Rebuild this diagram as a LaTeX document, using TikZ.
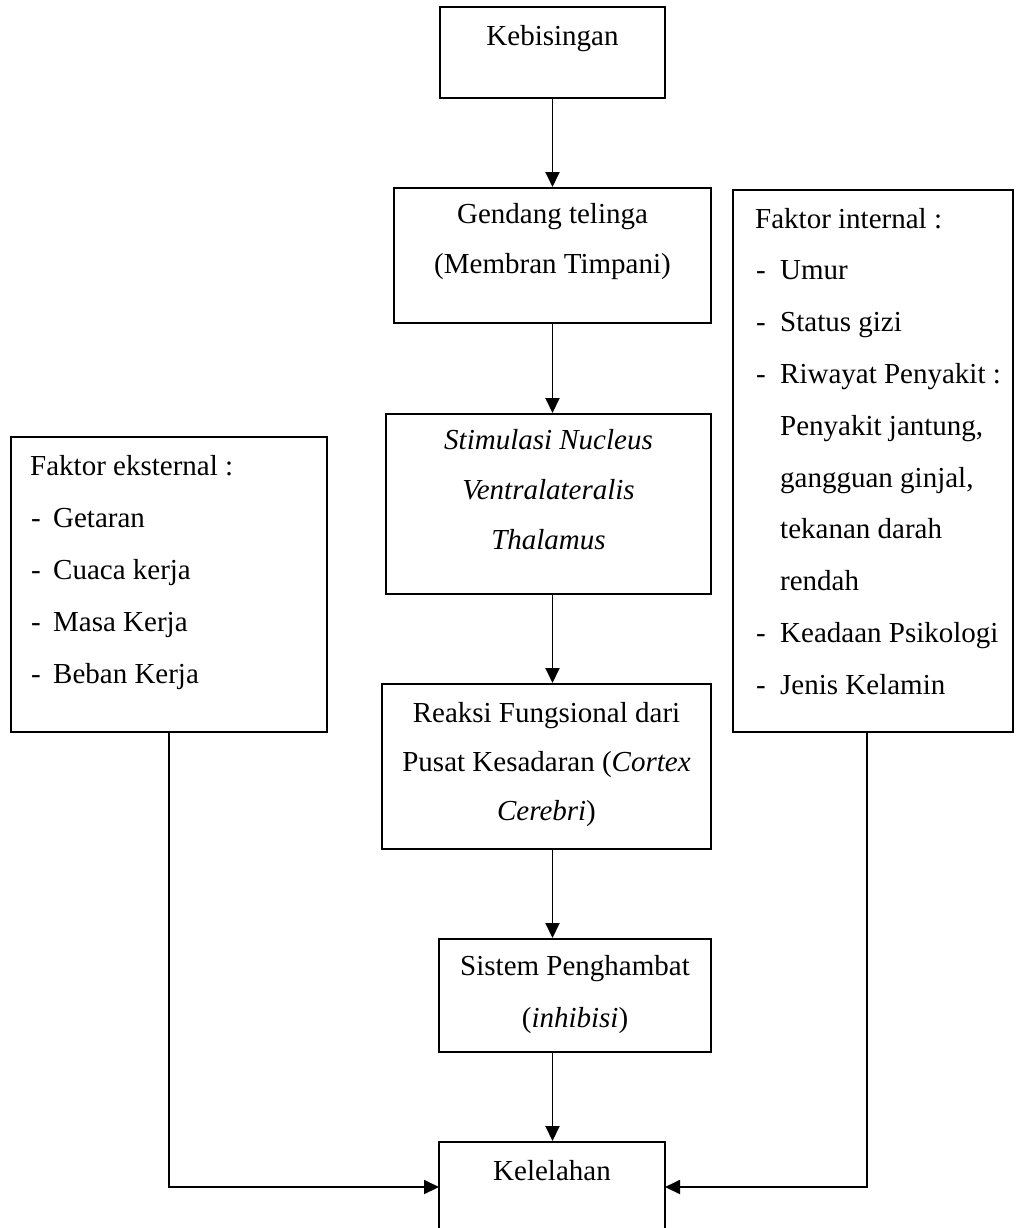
\documentclass[tikz,border=0pt]{standalone}
\usepackage{fontspec}
\setmainfont{Liberation Serif}
\usetikzlibrary{arrows.meta}
\tikzset{
  box/.style={draw, line width=2pt, inner sep=0pt},
  arr/.style={line width=1.9pt, -{Triangle[length=15pt,width=14pt]}},
  ctxt/.style={anchor=base, inner sep=0pt, font=\fontsize{29}{35}\selectfont},
  ltxt/.style={anchor=base west, inner sep=0pt, font=\fontsize{29}{35}\selectfont}
}
\begin{document}
\begin{tikzpicture}[x=1pt,y=-1pt]
\useasboundingbox (0,0) rectangle (1015,1228);
\clip (0,0) rectangle (1015,1228);
% boxes
\node[box, minimum width=225pt, minimum height=91pt] (keb) at (552.5,52.5) {};
\node[box, minimum width=317pt, minimum height=135pt] (gen) at (552.5,255.5) {};
\node[box, minimum width=325pt, minimum height=180pt] (sti) at (548.5,504) {};
\node[box, minimum width=329pt, minimum height=165pt] (rea) at (546.5,766.5) {};
\node[box, minimum width=272pt, minimum height=113pt] (sis) at (575,995.5) {};
\node[box, minimum width=226pt, minimum height=118pt] (kel) at (552,1201) {};
\node[box, minimum width=316pt, minimum height=295pt] (ext) at (169,584.5) {};
\node[box, minimum width=280pt, minimum height=542pt] (int) at (873,461) {};
% central texts
\node[ctxt] (t1) at (552.5,46) {Kebisingan};
\node[ctxt] (t2a) at (552.5,223) {Gendang telinga};
\node[ctxt] (t2b) at (552.5,273) {(Membran Timpani)};
\node[ctxt] (t3a) at (548.5,449) {\itshape Stimulasi Nucleus};
\node[ctxt] (t3b) at (548.5,499) {\itshape Ventralateralis};
\node[ctxt] (t3c) at (548.5,549) {\itshape Thalamus};
\node[ctxt] (t4a) at (546.5,722) {Reaksi Fungsional dari};
\node[ctxt] (t4b) at (546.5,771) {Pusat Kesadaran (\textit{Cortex}};
\node[ctxt] (t4c) at (546.5,820) {\textit{Cerebri})};
\node[ctxt] (t5a) at (575,975) {Sistem Penghambat};
\node[ctxt] (t5b) at (575,1027) {(\textit{inhibisi})};
\node[ctxt] (t6) at (552,1180) {Kelelahan};
% external factors
\node[ltxt] (e0) at (30,475) {Faktor eksternal :};
\foreach \t [count=\i] in {Getaran, Cuaca kerja, Masa Kerja, Beban Kerja}
  \node[ltxt] (e\i) at (31,475+52*\i) {\makebox[22pt][l]{-}\t};
% internal factors
\node[ltxt] (i0) at (755,228) {Faktor internal :};
\node[ltxt] (i1) at (756,279.8) {\makebox[24pt][l]{-}Umur};
\node[ltxt] (i2) at (756,331.6) {\makebox[24pt][l]{-}Status gizi};
\node[ltxt] (i3) at (756,383.4) {\makebox[24pt][l]{-}Riwayat Penyakit :};
\node[ltxt] (i4) at (780,435.2) {Penyakit jantung,};
\node[ltxt] (i5) at (780,487) {gangguan ginjal,};
\node[ltxt] (i6) at (780,538.8) {tekanan darah};
\node[ltxt] (i7) at (780,590.6) {rendah};
\node[ltxt] (i8) at (756,642.4) {\makebox[24pt][l]{-}Keadaan Psikologi};
\node[ltxt] (i9) at (756,694.2) {\makebox[24pt][l]{-}Jenis Kelamin};
% connectors
\coordinate (kl) at (439,1187);
\coordinate (kr) at (665,1187);
\coordinate (intout) at (867,732);
\draw[arr] (keb.south) -- (keb.south |- gen.north);
\draw[arr] (keb.south |- gen.south) -- (keb.south |- sti.north);
\draw[arr] (keb.south |- sti.south) -- (keb.south |- rea.north);
\draw[arr] (keb.south |- rea.south) -- (keb.south |- sis.north);
\draw[arr] (keb.south |- sis.south) -- (keb.south |- kel.north);
\draw[arr] (ext.south) |- (kl);
\draw[arr] (intout) |- (kr);
\end{tikzpicture}
\end{document}
